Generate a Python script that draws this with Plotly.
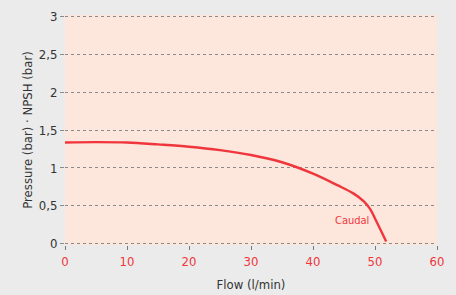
import plotly.graph_objects as go

flow = [0, 5, 10, 15, 20, 25, 30, 35, 40, 44, 46.5, 48.2, 49.2, 50.2, 51.8]
pressure = [1.335, 1.34, 1.335, 1.31, 1.28, 1.235, 1.17, 1.075, 0.925, 0.77, 0.665, 0.56, 0.46, 0.30, 0.03]

x_ticks = [0, 10, 20, 30, 40, 50, 60]
y_ticks = [0, 0.5, 1, 1.5, 2, 2.5, 3]
y_labels = ["0", "0,5", "1", "1,5", "2", "2,5", "3"]

font_family = "DejaVu Sans Condensed, Liberation Sans Narrow, Liberation Sans, Arial"
red = "#f0363c"

fig = go.Figure()
fig.add_trace(go.Scatter(x=flow, y=pressure, mode="lines", line=dict(color=red, width=2.4, shape="spline", smoothing=1),
                         showlegend=False, hoverinfo="skip"))
fig.add_annotation(x=46.3, y=0.31, text="Caudal", showarrow=False,
                   font=dict(family=font_family, size=11, color=red))

fig.update_layout(
    width=456, height=295,
    margin=dict(l=65, r=19, t=15, b=50, autoexpand=False),
    paper_bgcolor="#eaebea",
    plot_bgcolor="#fde6dc",
    font=dict(family=font_family, color="#333333"),
    xaxis=dict(range=[0, 60], tickvals=x_ticks, showgrid=False, zeroline=False, automargin=False,
               ticks="outside", ticklen=4, tickcolor="#777777",
               tickfont=dict(color=red, size=13),
               title=dict(text="Flow (l/min)", font=dict(size=13, color="#333333"), standoff=12)),
    yaxis=dict(range=[-0.015, 3.015], tickvals=y_ticks, ticktext=y_labels, showgrid=True, automargin=False,
               gridcolor="#8a8a8a", griddash="3px,3px", gridwidth=1, zeroline=False,
               ticks="outside", ticklen=4, tickcolor="#8a8a8a",
               tickfont=dict(color="#333333", size=13),
               title=dict(text="Pressure (bar) · NPSH (bar)", font=dict(size=13, color="#333333"), standoff=3)),
)
fig.write_html("out.html", config={"displayModeBar": False})
with open("out.html", "r", encoding="utf-8") as f:
    html = f.read()
html = html.replace("<head>", "<head><style>html,body{margin:0;padding:0;}</style>", 1)
with open("out.html", "w", encoding="utf-8") as f:
    f.write(html)
